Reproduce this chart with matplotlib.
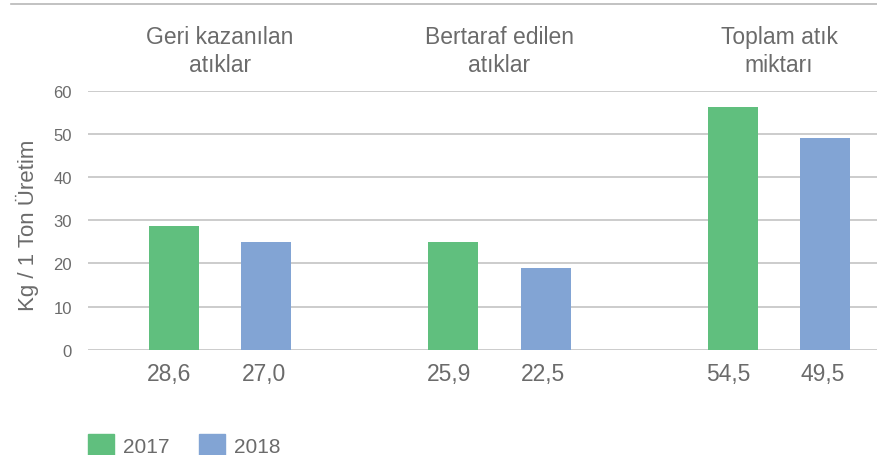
import numpy as np
import matplotlib
matplotlib.use("Agg")
import matplotlib.pyplot as plt
from matplotlib.patches import Patch
from matplotlib.transforms import blended_transform_factory

# veriler (çubuk yükseklikleri, etiketler olduğu gibi)
categories = ["Geri kazanılan\natıklar", "Bertaraf edilen\natıklar", "Toplam atık\nmiktarı"]
years = ["2017", "2018"]
values_2017 = [28.8, 25.0, 56.2]
values_2018 = [25.0, 18.9, 49.0]
labels_2017 = ["28,6", "25,9", "54,5"]
labels_2018 = ["27,0", "22,5", "49,5"]
yticks = [0, 10, 20, 30, 40, 50, 60]

green = "#60BF7E"
blue = "#82A4D4"
grey = "#6B6B6B"

plt.rcParams["font.family"] = ["Liberation Sans", "DejaVu Sans"]

fig = plt.figure(figsize=(8.78, 4.56), dpi=100)
ax = fig.add_axes([88 / 878, 105.3 / 456, 790 / 878, 258.7 / 456])

index = np.arange(len(categories))
bar_width = 0.179
offset = 0.166

ax.bar(index - offset, values_2017, bar_width, color=green, zorder=3)
ax.bar(index + offset, values_2018, bar_width, color=blue, zorder=3)

ax.set_ylim(0, 60)
ax.set_xlim(-0.472, 2.354)
ax.set_yticks(yticks)
ax.set_xticks([])
ax.tick_params(axis="y", length=0, pad=11.5, labelsize=12, labelcolor=grey)
for s in ax.spines.values():
    s.set_visible(False)
ax.grid(axis="y", color="#C4C4C4", linewidth=1.2, zorder=0)
ax.set_ylabel("Kg / 1 Ton Üretim", fontsize=16, color=grey, va="center")
ax.yaxis.set_label_coords(-0.0766, 0.484)

# kategori başlıkları ve değer etiketleri
trans = blended_transform_factory(ax.transData, fig.transFigure)
for i, cat in enumerate(categories):
    ax.text(index[i], 1 - 51.5 / 456, cat, transform=trans, ha="center", va="center",
            fontsize=16.5, color=grey, linespacing=1.25)
    ax.text(index[i] - offset - 0.015, 1 - 375 / 456, labels_2017[i], transform=trans,
            ha="center", va="center", fontsize=16.5, color=grey)
    ax.text(index[i] + offset - 0.01, 1 - 375 / 456, labels_2018[i], transform=trans,
            ha="center", va="center", fontsize=16.5, color=grey)

# üst çizgi
fig.add_artist(plt.Line2D([11 / 878, 1], [1 - 5 / 456, 1 - 5 / 456], color="#B8B8B8", linewidth=1.2))

handles = [Patch(color=green), Patch(color=blue)]
leg = fig.legend(handles, years, loc="lower left", bbox_to_anchor=(88 / 878, -0.002), ncol=2,
                 frameon=False, fontsize=15, handlelength=1.25, handleheight=1.2,
                 handletextpad=0.43, columnspacing=1.4, borderpad=0, borderaxespad=0)
for t in leg.get_texts():
    t.set_color(grey)

fig.savefig("out.png", dpi=100)
